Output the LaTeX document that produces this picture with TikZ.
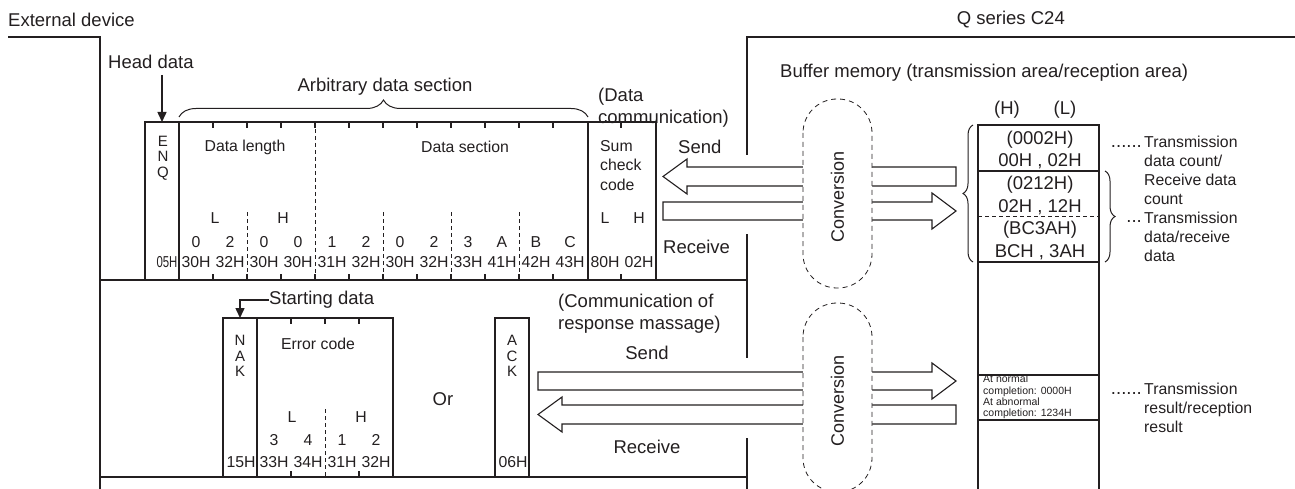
\documentclass[tikz,border=0pt]{standalone}
\usepackage{fontspec}
\setmainfont{Liberation Sans}
\usetikzlibrary{arrows.meta,decorations.pathreplacing}
\definecolor{inkc}{RGB}{35,31,32}
\begin{document}
\begin{tikzpicture}[x=1pt,y=-1pt,
  heavy/.style={draw=inkc, line width=1.8pt},
  tick/.style={draw=inkc, line width=1.5pt},
  dsh/.style={draw=inkc, line width=0.8pt, dash pattern=on 4pt off 3pt},
  blk/.style={draw=inkc, line width=1.1pt, fill=white, line join=miter},
  conv/.style={draw=inkc, line width=0.8pt, dash pattern=on 5pt off 4pt, fill=white, rounded corners=34pt},
  arr/.style={draw=inkc, line width=1.5pt, -{Triangle[length=10pt,width=9pt]}},
  brc/.style={draw=inkc, line width=1pt, decorate, decoration={brace, amplitude=#1}},
  big/.style={font=\fontsize{18.5}{22}\selectfont, text=inkc, inner sep=0pt},
  med/.style={font=\fontsize{15.8}{19}\selectfont, text=inkc, inner sep=0pt},
  sml/.style={font=\fontsize{10.5}{11.4}\selectfont, text=inkc, inner sep=0pt},
]
\useasboundingbox (0,0) rectangle (1295,489);

% ---------- outer boundaries ----------
\draw[heavy] (8,37) -- (100,37) -- (100,489);
\draw[heavy] (100,280) -- (747,280);
\draw[heavy] (100,477) -- (747,477);
\draw[heavy] (747,155) -- (747,37) -- (1295,37);
\draw[heavy] (747,234) -- (747,358);
\draw[heavy] (747,438) -- (747,489);

\node[big, anchor=west] (extdev) at (8,20) {External device};
\node[big, anchor=east] (qser) at (1065,20) {Q series C24};

% ---------- upper message frame ----------
\draw[heavy] (145,280) -- (145,122) -- (656,122) -- (656,280);
\draw[heavy] (179,122) -- (179,280);
\draw[heavy] (588,122) -- (588,280);
\foreach \x in {213,247,281,315,349,383,417,451,485,519,553,621} {
  \draw[tick] (\x,122) -- (\x,128);
  \draw[tick] (\x,274) -- (\x,280);
}
\draw[dsh] (315,122) -- (315,280);
\foreach \x in {247,383,451,519} \draw[dsh] (\x,212) -- (\x,280);

\node[big, anchor=west] (head) at (108,62) {Head data};
\coordinate (headsrc) at (162,75);
\coordinate (enqtop) at (162,122);
\draw[arr] (headsrc) -- (enqtop);

\draw[brc=17pt] (179,117) -- (588,117);
\node[big] (arb) at (385,87) {Arbitrary data section};

\node[med, align=center, font=\fontsize{15}{15.5}\selectfont] (enq) at (163,158) {E\\N\\Q};
\node[med] (dlen) at (245,147) {Data length};
\node[med] (dsec) at (465,147) {Data section};
\node[med, anchor=west, align=left, font=\fontsize{15.8}{19.5}\selectfont] (sum) at (600,165.5) {Sum\\check\\code};

\node[med] (lL) at (215,218) {L};
\node[med] (lH) at (283,218) {H};
\node[med] (sL) at (605,218) {L};
\node[med] (sH) at (639,218) {H};

\foreach \d/\h [count=\i] in {0/30H,2/32H,0/30H,0/30H,1/31H,2/32H,0/30H,2/32H,3/33H,A/41H,B/42H,C/43H} {
  \node[med] (dg\i) at (162+34*\i,242) {\d};
  \node[med] (hx\i) at (162+34*\i,262) {\h};
}
\node[med] (enqhex) at (167,262) {\scalebox{0.72}[1]{05H}};
\node[med] (sumL) at (605,262) {80H};
\node[med] (sumH) at (639,262) {02H};

\node[big, anchor=west, align=left] (datacomm) at (598,108) {(Data\\communication)};
\node[big, anchor=west] (send1) at (678,147) {Send};
\node[big, anchor=west] (recv1) at (663,247) {Receive};

% ---------- lower response frames ----------
\draw[heavy] (223,477) -- (223,318) -- (393,318) -- (393,477);
\draw[heavy] (257,318) -- (257,477);
\foreach \x in {291,325,359} \draw[tick] (\x,318) -- (\x,324);
\foreach \x in {291,359} \draw[tick] (\x,471) -- (\x,477);
\draw[dsh] (325,409) -- (325,477);
\draw[heavy] (495,477) -- (495,318) -- (529,318) -- (529,477);

\node[big, anchor=west] (start) at (269,300) {Starting data};
\coordinate (naktop) at (240,318);
\draw[arr] (start.west) -| (naktop);

\node[med, align=center, font=\fontsize{15}{15.5}\selectfont] (nak) at (240,356) {N\\A\\K};
\node[med] (errc) at (318,344) {Error code};
\node[med] (eL) at (292,417) {L};
\node[med] (eH) at (361,417) {H};
\foreach \d/\h [count=\i] in {3/33H,4/34H,1/31H,2/32H} {
  \node[med] (ed\i) at (240+34*\i,440) {\d};
  \node[med] (eh\i) at (240+34*\i,462) {\h};
}
\node[med] (nakhex) at (241,462) {15H};
\node[big] (orlbl) at (443,399) {Or};
\node[med, align=center, font=\fontsize{15}{15.5}\selectfont] (ack) at (512,356) {A\\C\\K};
\node[med] (ackhex) at (513,462) {06H};

\node[big, anchor=west, align=left] (respcomm) at (558,314) {(Communication of\\response massage)};
\node[big] (send2) at (647,353) {Send};
\node[big] (recv2) at (647,447) {Receive};

% ---------- block arrows ----------
\draw[blk] (956,167) -- (687,167) -- (687,159) -- (663,176.5) -- (687,194) -- (687,186) -- (956,186) -- cycle;
\draw[blk] (663,202) -- (932,202) -- (932,193) -- (956,211) -- (932,229) -- (932,220) -- (663,220) -- cycle;
\draw[blk] (538,372) -- (932,372) -- (932,363) -- (956,381) -- (932,399) -- (932,390) -- (538,390) -- cycle;
\draw[blk] (956,405) -- (562,405) -- (562,397) -- (538,414.5) -- (562,432) -- (562,424) -- (956,424) -- cycle;

% ---------- conversion ----------
\draw[conv] (803,99) rectangle (872,288);
\draw[conv] (803,303) rectangle (872,492);
\node[big, font=\fontsize{18}{22}\selectfont, rotate=90] (conv1) at (837.5,197) {Conversion};
\node[big, font=\fontsize{18}{22}\selectfont, rotate=90] (conv2) at (837.5,401) {Conversion};

% ---------- buffer memory ----------
\node[big, anchor=west] (bufmem) at (780,73) {Buffer memory (transmission area/reception area)};
\node[big] (colH) at (1007,110) {(H)};
\node[big] (colL) at (1065,110) {(L)};

\draw[heavy] (978,489) -- (978,125) -- (1099,125) -- (1099,489);
\foreach \y in {171,262,375,420} \draw[heavy] (978,\y) -- (1099,\y);
\draw[dsh] (978,216) -- (1099,216);

\node[big] (c1a) at (1040,140) {(0002H)};
\node[big] (c1b) at (1040,161) {00H , 02H};
\node[big] (c2a) at (1040,185) {(0212H)};
\node[big] (c2b) at (1040,207) {02H , 12H};
\node[big] (c3a) at (1040,230) {(BC3AH)};
\node[big] (c3b) at (1040,252) {BCH , 3AH};
\node[sml, anchor=west, align=left] (res) at (983,397) {At normal\\completion: 0000H\\At abnormal\\completion: 1234H};

\draw[brc=10pt] (973,262) -- (973,125);
\draw[brc=10pt] (1105,171) -- (1105,262);

\node[big, anchor=base east] (dots1) at (1142,147.6) {......};
\node[med, anchor=west, align=left] (lab1) at (1144,170.5) {Transmission\\data count/\\Receive data\\count};
\node[big, anchor=base east] (dots2) at (1142,222.6) {...};
\node[med, anchor=west, align=left] (lab2) at (1144,236.5) {Transmission\\data/receive\\data};
\node[big, anchor=base east] (dots3) at (1142,394.6) {......};
\node[med, anchor=west, align=left] (lab3) at (1144,408) {Transmission\\result/reception\\result};
\end{tikzpicture}
\end{document}
